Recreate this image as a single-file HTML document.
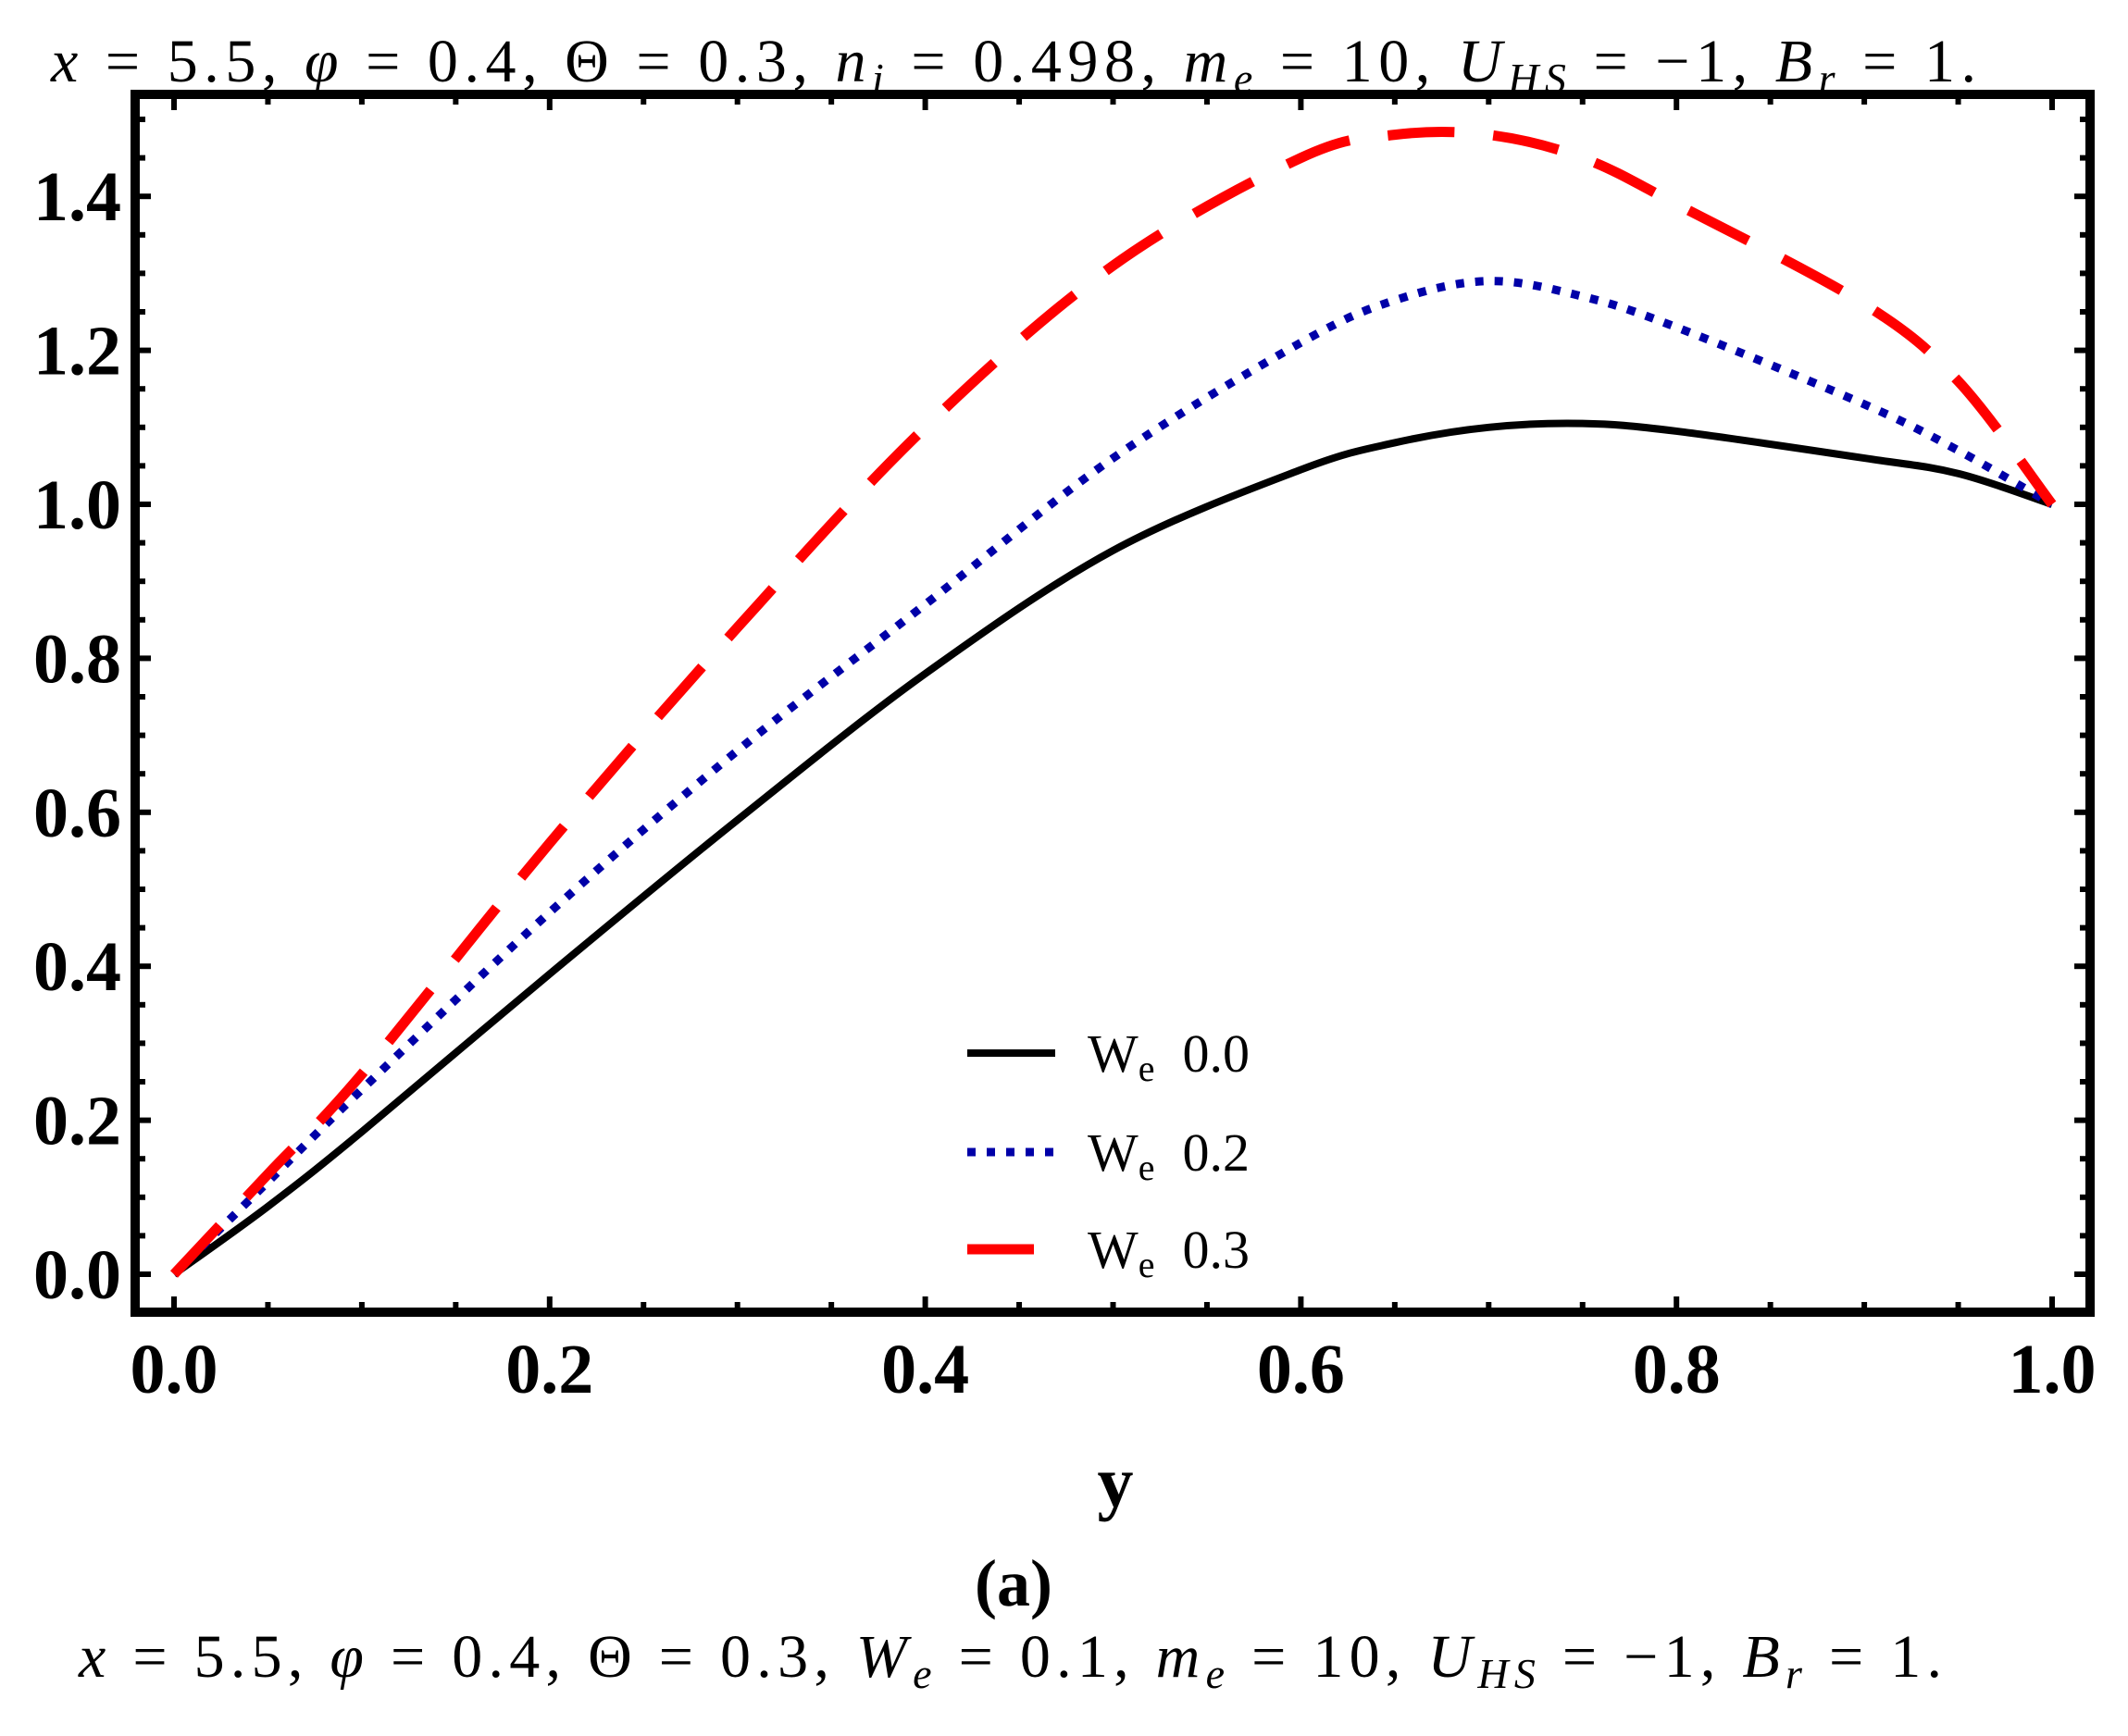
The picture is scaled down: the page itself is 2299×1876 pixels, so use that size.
<!DOCTYPE html>
<html><head><meta charset="utf-8"><style>
html,body{margin:0;padding:0;background:#fff;}
svg{display:block;}
.t{font-family:"Liberation Serif",serif;}
</style></head><body>
<svg id="chart" width="2299" height="1876" viewBox="0 0 2299 1876" xmlns="http://www.w3.org/2000/svg">
<text class="t" x="55" y="88" font-size="66" textLength="2080" lengthAdjust="spacing"><tspan font-style="italic">x</tspan> = 5.5, <tspan font-style="italic">φ</tspan> = 0.4, Θ = 0.3, <tspan font-style="italic">n<tspan font-size="46" dy="12">i</tspan></tspan><tspan dy="-12"> = 0.498, </tspan><tspan font-style="italic">m<tspan font-size="46" dy="12">e</tspan></tspan><tspan dy="-12"> = 10, </tspan><tspan font-style="italic">U<tspan font-size="46" dy="12">HS</tspan></tspan><tspan dy="-12"> = −1, </tspan><tspan font-style="italic">B<tspan font-size="46" dy="12">r</tspan></tspan><tspan dy="-12"> = 1.</tspan></text>
<g id="plot"></g>
<rect x="146" y="102" width="2112" height="1316" fill="none" stroke="#000" stroke-width="10"/>
<text class="t" x="1205" y="1628" font-size="78" font-weight="bold" text-anchor="middle">y</text>
<text class="t" x="1095" y="1735" font-size="72" font-weight="bold" text-anchor="middle">(a)</text>
<text class="t" x="85" y="1812" font-size="66" textLength="2013" lengthAdjust="spacing"><tspan font-style="italic">x</tspan> = 5.5, <tspan font-style="italic">φ</tspan> = 0.4, Θ = 0.3, <tspan font-style="italic">W<tspan font-size="46" dy="12">e</tspan></tspan><tspan dy="-12"> = 0.1, </tspan><tspan font-style="italic">m<tspan font-size="46" dy="12">e</tspan></tspan><tspan dy="-12"> = 10, </tspan><tspan font-style="italic">U<tspan font-size="46" dy="12">HS</tspan></tspan><tspan dy="-12"> = −1, </tspan><tspan font-style="italic">B<tspan font-size="46" dy="12">r</tspan></tspan><tspan dy="-12"> = 1.</tspan></text>
</svg>
<script>
const xs = [0, 0.05, 0.1, 0.2, 0.3, 0.4, 0.5, 0.6, 0.65, 0.7, 0.75, 0.8, 0.9, 0.95, 1.0];
const we0 = [0, 0.088, 0.185, 0.39, 0.59, 0.78, 0.94, 1.045, 1.08, 1.10, 1.105, 1.095, 1.06, 1.04, 1.0];
const we2 = [0, 0.12, 0.24, 0.47, 0.68, 0.87, 1.06, 1.21, 1.265, 1.29, 1.27, 1.23, 1.13, 1.07, 1.0];
const we3 = [0, 0.13, 0.26, 0.56, 0.84, 1.10, 1.31, 1.45, 1.48, 1.48, 1.45, 1.39, 1.26, 1.16, 1.0];
const xTicks = ["0.0","0.2","0.4","0.6","0.8","1.0"];
const yTicks = ["0.0","0.2","0.4","0.6","0.8","1.0","1.2","1.4"];
const legendLabels = ["0.0","0.2","0.3"];

const NS = "http://www.w3.org/2000/svg";
const g = document.getElementById('plot');
const X = v => 188 + v * 2029;
const Y = v => 1377 - v * 832;
function mk(tag, attrs, parent){const e=document.createElementNS(NS,tag);for(const k in attrs)e.setAttribute(k,attrs[k]);(parent||g).appendChild(e);return e;}

for (let i=0;i<=20;i++){
  const v=i*0.05, major=i%4===0, L=major?12:6, x=X(v);
  const t1=mk('line',{x1:x,x2:x,y1:1413,y2:1413-L,stroke:'#000','stroke-width':6});
  
  
  const t2=mk('line',{x1:x,x2:x,y1:107,y2:107+L,stroke:'#000','stroke-width':6});
  
  
}
for (let i=0;i<=30;i++){
  const v=i*0.05, major=i%4===0, L=major?12:6, y=Y(v);
  if (y<110) continue;
  const t1=mk('line',{x1:151,x2:151+L,y1:y,y2:y,stroke:'#000','stroke-width':6});
  
  
  const t2=mk('line',{x1:2253,x2:2253-L,y1:y,y2:y,stroke:'#000','stroke-width':6});
  
  
}
xTicks.forEach(s=>{
  const t=mk('text',{x:X(parseFloat(s)),y:1505,'font-size':76,'font-weight':'bold','text-anchor':'middle','class':'t'});
  t.textContent=s;
  
  
});
yTicks.forEach(s=>{
  const t=mk('text',{x:131,y:Y(parseFloat(s))+26,'font-size':76,'font-weight':'bold','text-anchor':'end','class':'t'});
  t.textContent=s;
  
  
});

function pathD(vals){
  const p=xs.map((x,i)=>[X(x),Y(vals[i])]);
  let d=`M${p[0][0]},${p[0][1]}`;
  for(let i=0;i<p.length-1;i++){
    const p0=p[Math.max(i-1,0)],p1=p[i],p2=p[i+1],p3=p[Math.min(i+2,p.length-1)];
    const c1=[p1[0]+(p2[0]-p0[0])/6,p1[1]+(p2[1]-p0[1])/6];
    const c2=[p2[0]-(p3[0]-p1[0])/6,p2[1]-(p3[1]-p1[1])/6];
    d+=` C${c1[0]},${c1[1]} ${c2[0]},${c2[1]} ${p2[0]},${p2[1]}`;
  }
  return d;
}
const styles=[
  {vals:we0,color:'#000',w:8,dash:'',name:'curve-we-0.0'},
  {vals:we2,color:'#0000a8',w:9,dash:'9 12',name:'curve-we-0.2'},
  {vals:we3,color:'#ff0000',w:11,dash:'72 42',name:'curve-we-0.3'}
];
styles.forEach(s=>{
  const p=mk('path',{d:pathD(s.vals),fill:'none',stroke:s.color,'stroke-width':s.w,'stroke-dasharray':s.dash});
  
  
});
const ly=[1138,1245,1350];
const legendStyles=[['#000',8,''],['#0000a8',9,'9 12'],['#ff0000',11,'72 42']];
legendLabels.forEach((lab,i)=>{
  const l=mk('line',{x1:1045,x2:1140,y1:ly[i],y2:ly[i],stroke:legendStyles[i][0],'stroke-width':legendStyles[i][1],'stroke-dasharray':legendStyles[i][2]});
  
  
  const t=mk('text',{x:1175,y:ly[i]+20,'font-size':58,'class':'t'});
  t.innerHTML='W<tspan font-size="40" dy="10">e</tspan><tspan dy="-10" dx="30">'+lab+'</tspan>';
  
  
});
</script>
</body></html>
